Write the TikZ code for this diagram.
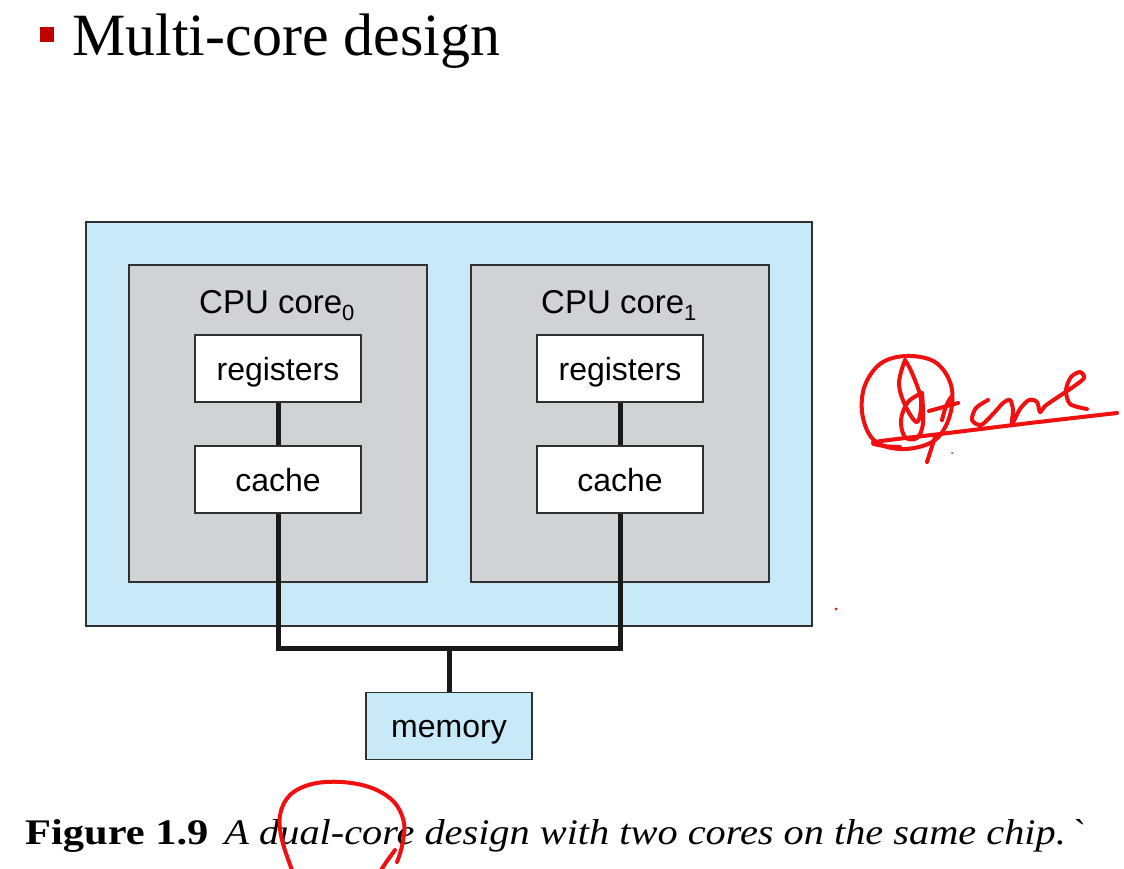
\documentclass[tikz,border=0pt]{standalone}
\usepackage{fontspec}
\setmainfont{Liberation Serif}
\newfontfamily\labelfont{Liberation Sans}
\usepackage{graphicx}
\definecolor{chipblue}{HTML}{C8E9F8}
\definecolor{coregray}{HTML}{D1D2D4}
\definecolor{inkred}{HTML}{F01010}
\definecolor{bulletred}{HTML}{C00000}
\definecolor{edge}{HTML}{303030}
\begin{document}
\begin{tikzpicture}[x=1pt,y=-1pt,
  chipbox/.style={draw=edge, line width=1.3pt, fill=chipblue, inner sep=0pt},
  corebox/.style={draw=edge, line width=1.3pt, fill=coregray, inner sep=0pt, minimum width=298pt, minimum height=317pt},
  unitbox/.style={draw=edge, line width=1.3pt, fill=white, inner sep=0pt, minimum width=166pt, minimum height=67pt,
    font=\labelfont\fontsize{32}{36}\selectfont, text height=26pt, text depth=3pt},
  corelabel/.style={font=\labelfont\fontsize{33}{36}\selectfont, inner sep=0pt, anchor=base west},
  bus/.style={draw=black!90, line width=5pt},
  ink/.style={draw=inkred, line width=4pt, line cap=round, line join=round}]
\useasboundingbox (0,0) rectangle (1124,868);
\fill[white] (0,0) rectangle (1124,868);

% title
\fill[bulletred] (40,27) rectangle (54,42) coordinate (bullet);
\node[anchor=base west, inner sep=0pt, font=\fontsize{60}{66}\selectfont] (title) at (72,55) {Multi-core design};

% chip
\node[chipbox, minimum width=726pt, minimum height=404pt] (chip) at (449,424) {};
\node[corebox] (core0) at (278,423.5) {};
\node[corebox] (core1) at (620,423.5) {};
\node[corelabel] (lab0) at (199,313) {CPU core{\fontsize{22}{22}\selectfont\raisebox{-7pt}{0}}};
\node[corelabel] (lab1) at (541,313) {CPU core{\fontsize{22}{22}\selectfont\raisebox{-7pt}{1}}};
\node[unitbox] (reg0) at (278,368.5) {registers};
\node[unitbox] (cache0) at (278,479.5) {cache};
\node[unitbox] (reg1) at (620,368.5) {registers};
\node[unitbox] (cache1) at (620,479.5) {cache};
\node[unitbox, fill=chipblue] (mem) at (449,726) {memory};

% buses
\coordinate (join) at (449,648);
\draw[bus] (reg0) -- (cache0);
\draw[bus] (reg1) -- (cache1);
\draw[bus] (cache0.south) |- (join) -| (cache1.south);
\draw[bus] (join) -- (mem.north);

% caption
\node[anchor=base west, inner sep=0pt] (cap) at (25,844)
  {\fontsize{36}{40}\selectfont\scalebox{1.18}[1]{\bfseries Figure 1.9}\hspace{16pt}\scalebox{1.12}[1]{\itshape A dual-core design with two cores on the same chip.}\hspace{8pt}\textasciigrave};

% red annotations
\draw[ink] plot[smooth cycle, tension=0.6] coordinates {(906,356) (880,364) (864,388) (863,418) (876,442) (905,449) (935,440) (950,415) (951,385) (935,362)};
\draw[ink] plot[smooth, tension=0.6] coordinates {(905,360) (899,383) (905,405) (917,422) (921,400) (912,373) (905,360)};
\draw[ink] plot[smooth, tension=0.6] coordinates {(922,393) (908,402) (901,420) (905,437) (917,438) (923,423) (922,393)};
\draw[ink] (935,437) -- (927,462);
\draw[ink] (929,411) -- (958,403);
\draw[ink] (951,397) .. controls (946,405) .. (942,420);
\draw[ink] plot[smooth, tension=0.5] coordinates {(988,400) (976,408) (972,420) (981,425) (993,414) (1003,403) (1010,400) (1013,410) (1012,424) (1020,409) (1029,400) (1037,402) (1040,412) (1045,406) (1058,397) (1073,387) (1084,378) (1080,372) (1071,377) (1066,390) (1070,404) (1087,409)};
\draw[ink] plot[smooth, tension=0.5] coordinates {(900,447) (884,446) (875,442) (940,434) (1030,423) (1117,413)};
\fill[inkred] (836,609) circle (1.5);
\fill[inkred] (952,453) circle (1);
\draw[ink] plot[smooth, tension=0.6] coordinates {(292,870) (282,840) (280,815) (290,795) (312,784) (342,782) (372,788) (394,802) (404,823) (402,846) (397,862)};
\draw[ink] (395,850) -- (387,861) -- (381,870);
\end{tikzpicture}
\end{document}
